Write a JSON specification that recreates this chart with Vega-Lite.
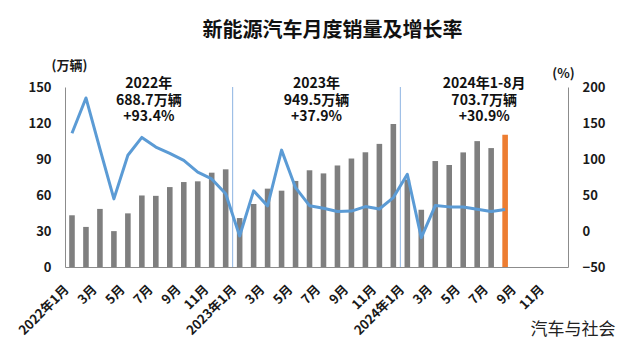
{
  "$schema": "https://vega.github.io/schema/vega-lite/v6.json",
  "width": 503,
  "height": 180,
  "autosize": {"type": "none"},
  "padding": {"left": 65, "top": 87, "right": 57, "bottom": 78},
  "background": "white",
  "config": {
    "font": "Noto Sans CJK SC",
    "view": {"stroke": null},
    "axis": {"labelFont": "Noto Sans CJK SC", "titleFont": "Noto Sans CJK SC", "labelColor": "#1a1a1a", "titleColor": "#1a1a1a", "domainColor": "#8c8c8c", "ticks": false, "grid": false}
  },
  "title": {
    "text": "新能源汽车月度销量及增长率",
    "fontSize": 20,
    "fontWeight": "bold",
    "font": "Noto Sans CJK SC",
    "color": "#111111",
    "anchor": "middle",
    "dx": 16,
    "offset": 18
  },
  "datasets": {
    "main": [
      {"m": "2022-01", "sales": 43.1, "growth": 135.8},
      {"m": "2022-02", "sales": 33.4, "growth": 184.8},
      {"m": "2022-03", "sales": 48.4, "growth": 114.0},
      {"m": "2022-04", "sales": 29.9, "growth": 44.6},
      {"m": "2022-05", "sales": 44.7, "growth": 105.2},
      {"m": "2022-06", "sales": 59.6, "growth": 130.0},
      {"m": "2022-07", "sales": 59.3, "growth": 116.6},
      {"m": "2022-08", "sales": 66.6, "growth": 107.9},
      {"m": "2022-09", "sales": 70.8, "growth": 98.1},
      {"m": "2022-10", "sales": 71.4, "growth": 81.7},
      {"m": "2022-11", "sales": 78.6, "growth": 72.3},
      {"m": "2022-12", "sales": 81.4, "growth": 51.8},
      {"m": "2023-01", "sales": 40.8, "growth": -6.9},
      {"m": "2023-02", "sales": 52.5, "growth": 55.8},
      {"m": "2023-03", "sales": 65.3, "growth": 34.8},
      {"m": "2023-04", "sales": 63.6, "growth": 112.3},
      {"m": "2023-05", "sales": 71.7, "growth": 60.2},
      {"m": "2023-06", "sales": 80.6, "growth": 35.2},
      {"m": "2023-07", "sales": 78.0, "growth": 31.6},
      {"m": "2023-08", "sales": 84.6, "growth": 27.0},
      {"m": "2023-09", "sales": 90.4, "growth": 27.7},
      {"m": "2023-10", "sales": 95.6, "growth": 33.9},
      {"m": "2023-11", "sales": 102.6, "growth": 30.6},
      {"m": "2023-12", "sales": 119.1, "growth": 46.4},
      {"m": "2024-01", "sales": 72.9, "growth": 78.8},
      {"m": "2024-02", "sales": 47.7, "growth": -9.2},
      {"m": "2024-03", "sales": 88.3, "growth": 35.3},
      {"m": "2024-04", "sales": 85.0, "growth": 33.5},
      {"m": "2024-05", "sales": 95.5, "growth": 33.3},
      {"m": "2024-06", "sales": 104.9, "growth": 30.1},
      {"m": "2024-07", "sales": 99.1, "growth": 27.0},
      {"m": "2024-08", "sales": 110.3, "growth": 30.0}
    ],
    "dividers": [{"m": "2023-01"}, {"m": "2024-01"}],
    "notes": [
      {"m": "2022-07", "v": 152.5, "label": "2022年\n688.7万辆\n+93.4%"},
      {"m": "2023-07", "v": 152.5, "label": "2023年\n949.5万辆\n+37.9%"},
      {"m": "2024-07", "v": 152.5, "label": "2024年1-8月\n703.7万辆\n+30.9%"}
    ]
  },
  "layer": [
    {
      "layer": [
        {
          "data": {"name": "main"},
          "mark": {"type": "bar", "width": {"band": 0.4}},
          "encoding": {
            "x": {
              "field": "m", "type": "ordinal", "sort": null,
              "scale": {"domain": ["2022-01","2022-02","2022-03","2022-04","2022-05","2022-06","2022-07","2022-08","2022-09","2022-10","2022-11","2022-12","2023-01","2023-02","2023-03","2023-04","2023-05","2023-06","2023-07","2023-08","2023-09","2023-10","2023-11","2023-12","2024-01","2024-02","2024-03","2024-04","2024-05","2024-06","2024-07","2024-08","2024-09","2024-10","2024-11","2024-12"], "paddingInner": 0, "paddingOuter": 0},
              "axis": {
                "labelAngle": -45, "labelAlign": "right", "labelBaseline": "middle",
                "labelFontSize": 13, "labelFontWeight": "bold", "labelPadding": 20, "labelOffset": -5,
                "labelOverlap": false, "labelBound": false,
                "labelExpr": "(toNumber(slice(datum.value,5)) % 2 == 1) ? (slice(datum.value,5) == '01' ? slice(datum.value,0,4) + '年1月' : toNumber(slice(datum.value,5)) + '月') : ''",
                "title": "汽车与社会", "titleFontSize": 17, "titleFontWeight": "normal",
                "titleAlign": "right", "titleBaseline": "middle", "titleAnchor": null,
                "titleX": 550, "titleY": 62, "titleColor": "#222222"
              }
            },
            "y": {
              "field": "sales", "type": "quantitative",
              "scale": {"domain": [0, 150], "nice": false},
              "axis": {
                "values": [0, 30, 60, 90, 120, 150], "labelFontSize": 13, "labelFontWeight": "bold", "labelPadding": 14,
                "title": "(万辆)", "titleAngle": 0, "titleFontSize": 13, "titleFontWeight": "bold",
                "titleAlign": "center", "titleBaseline": "middle", "titleX": 4, "titleY": -22
              }
            },
            "color": {"condition": {"test": "datum.m === '2024-08'", "value": "#ed7d31"}, "value": "#7f7f7f"}
          }
        },
        {
          "data": {"name": "dividers"},
          "mark": {"type": "rule", "color": "#8db4e2", "strokeWidth": 1},
          "encoding": {
            "x": {"field": "m", "type": "ordinal", "bandPosition": 0}
          }
        },
        {
          "data": {"name": "notes"},
          "mark": {"type": "text", "fontSize": 14, "fontWeight": "bold", "lineBreak": "\n", "lineHeight": 16.5, "align": "center", "baseline": "middle", "color": "#111111"},
          "encoding": {
            "x": {"field": "m", "type": "ordinal", "bandPosition": 0},
            "y": {
              "field": "v", "type": "quantitative",
              "axis": {
                "values": [0, 30, 60, 90, 120, 150], "labelFontSize": 13, "labelFontWeight": "bold", "labelPadding": 14,
                "title": "(万辆)", "titleAngle": 0, "titleFontSize": 13, "titleFontWeight": "bold",
                "titleAlign": "center", "titleBaseline": "middle", "titleX": 4, "titleY": -22
              }
            },
            "text": {"field": "label"}
          }
        }
      ]
    },
    {
      "data": {"name": "main"},
      "mark": {"type": "line", "color": "#5b9bd5", "strokeWidth": 3, "strokeJoin": "round"},
      "encoding": {
        "x": {"field": "m", "type": "ordinal"},
        "y": {
          "field": "growth", "type": "quantitative",
          "scale": {"domain": [-50, 200], "nice": false},
          "axis": {
            "orient": "right", "values": [-50, 0, 50, 100, 150, 200], "labelFontSize": 13, "labelFontWeight": "bold", "labelPadding": 14,
            "title": "(%)", "titleAngle": 0, "titleFontSize": 13, "titleFontWeight": "bold",
            "titleAlign": "center", "titleBaseline": "middle", "titleX": -5, "titleY": -14
          }
        }
      }
    }
  ],
  "resolve": {"scale": {"y": "independent"}}
}
